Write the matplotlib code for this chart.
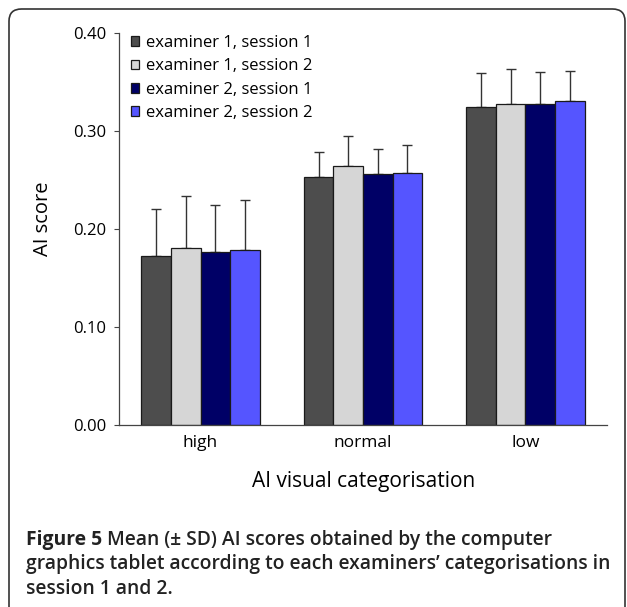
import matplotlib
matplotlib.use("Agg")
import matplotlib.pyplot as plt
import numpy as np
from matplotlib.patches import FancyBboxPatch

categories = ["high", "normal", "low"]
series = ["examiner 1, session 1", "examiner 1, session 2",
          "examiner 2, session 1", "examiner 2, session 2"]
means = [
    [0.172, 0.253, 0.324],
    [0.180, 0.264, 0.327],
    [0.176, 0.256, 0.327],
    [0.178, 0.257, 0.330],
]
sds = [
    [0.048, 0.025, 0.035],
    [0.053, 0.031, 0.036],
    [0.048, 0.025, 0.033],
    [0.051, 0.028, 0.031],
]
colors = ["#4d4d4d", "#d6d6d6", "#000066", "#5555ff"]
yticks = [0.0, 0.1, 0.2, 0.3, 0.4]

plt.rcParams["font.family"] = ["Open Sans", "DejaVu Sans"]

W, H = 627, 607


def fx(px):
    return px / W


def fy(py):
    return 1 - py / H


fig = plt.figure(figsize=(W / 100, H / 100), dpi=100)
ax = fig.add_axes([fx(119.3), fy(425), fx(606.7) - fx(119.3), fy(32.7) - fy(425)])

# rounded frame around the figure
frame = FancyBboxPatch((fx(9), -0.05), fx(625) - fx(9), fy(9) + 0.05,
                       boxstyle="round,pad=0,rounding_size=0.02",
                       transform=fig.transFigure, facecolor="none",
                       edgecolor="#333333", linewidth=1.2)
fig.patches.append(frame)

x = np.arange(len(categories))
w = 0.182
for i in range(len(series)):
    pos = x + (i - 1.5) * w
    ax.bar(pos, means[i], w, color=colors[i], edgecolor="#1a1a1a",
           linewidth=0.9, label=series[i], zorder=2)
    ax.errorbar(pos, means[i], yerr=[np.zeros(3), sds[i]], fmt="none",
                ecolor="#333333", elinewidth=1, capsize=3.6, capthick=1,
                zorder=1)

ax.set_xlim(-0.5, 2.5)
ax.set_ylim(0, 0.4)
ax.set_yticks(yticks)
ax.set_yticklabels([f"{t:.2f}" for t in yticks], fontsize=12)
ax.set_xticks(x)
ax.set_xticklabels(categories, fontsize=12.5)
ax.tick_params(axis="x", length=0, pad=7)
ax.tick_params(axis="y", length=3.3, direction="out", width=0.8,
               color="#444444", pad=6)
for s in ["top", "right"]:
    ax.spines[s].set_visible(False)
for s in ["left", "bottom"]:
    ax.spines[s].set_color("#444444")
    ax.spines[s].set_linewidth(0.9)

fig.text(fx(43.5), fy(218.3), "AI score", fontsize=14.5, rotation=90,
         ha="center", va="center")
fig.text(fx(363.7), fy(481.7), "AI visual categorisation", fontsize=15,
         ha="center", va="center")

fig.legend(loc="upper left", bbox_to_anchor=(fx(131), fy(35)),
           bbox_transform=fig.transFigure, frameon=False,
           fontsize=12, handlelength=0.5, handleheight=0.5,
           handletextpad=0.4, labelspacing=0.44, borderpad=0,
           borderaxespad=0)

# caption with bold prefix
r = fig.canvas.get_renderer()
cap_x = fx(26)
cap_fs = 13.9
cap_c = "#222222"
t = fig.text(cap_x, fy(545), "Figure 5 ", fontsize=cap_fs, fontweight="bold",
             va="baseline", ha="left", color=cap_c)
bb = t.get_window_extent(renderer=r)
fig.text(bb.x1 / fig.bbox.width, fy(545),
         "Mean (\u00b1 SD) AI scores obtained by the computer",
         fontsize=cap_fs, fontweight="semibold", va="baseline", ha="left",
         color=cap_c)
fig.text(cap_x, fy(569.5),
         "graphics tablet according to each examiners\u2019 categorisations in",
         fontsize=cap_fs, fontweight="semibold", va="baseline", ha="left",
         color=cap_c)
fig.text(cap_x, fy(594), "session 1 and 2.",
         fontsize=cap_fs, fontweight="semibold", va="baseline", ha="left",
         color=cap_c)

fig.savefig("out.png", dpi=100)
